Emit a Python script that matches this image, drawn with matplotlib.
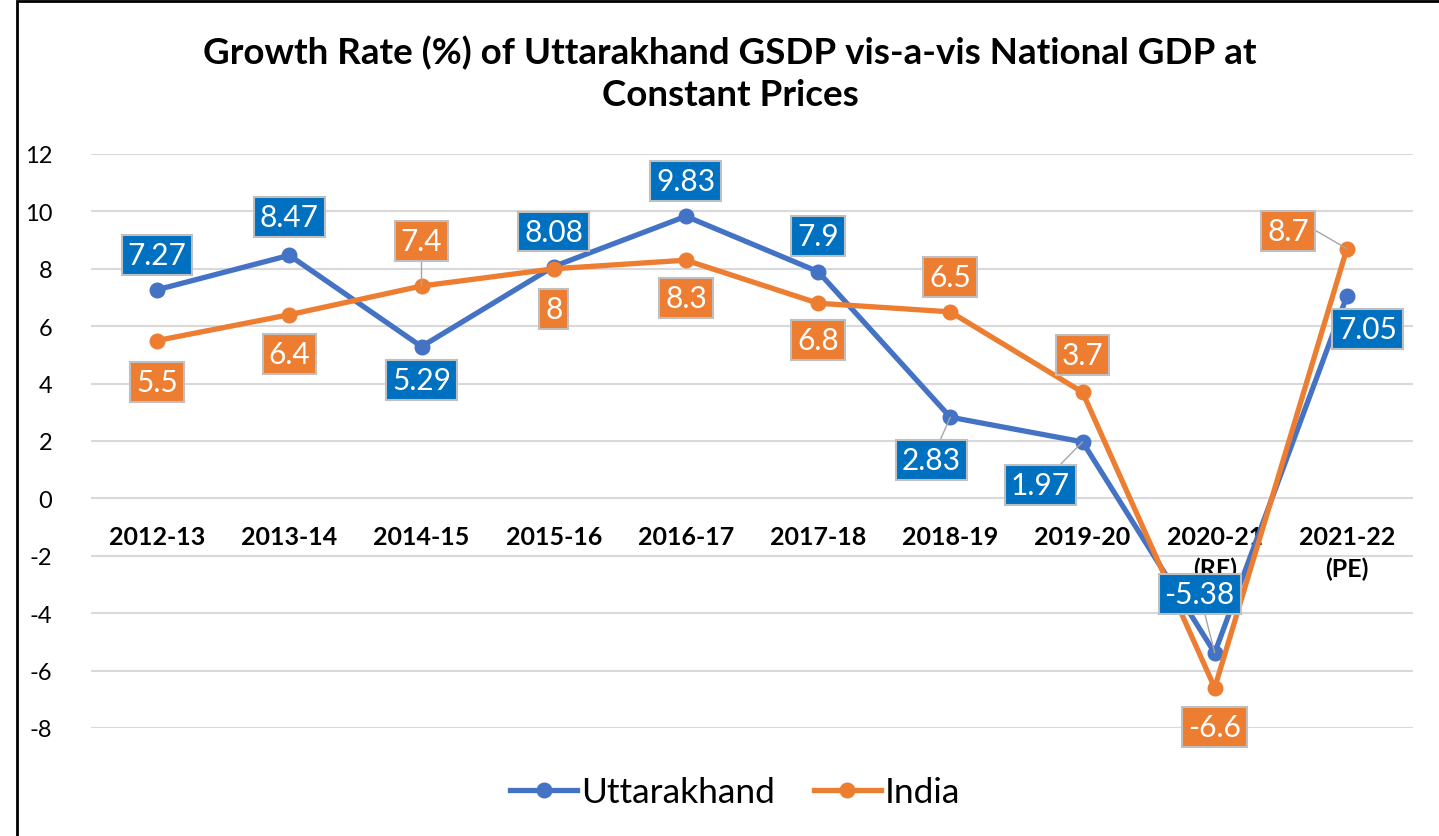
import matplotlib
matplotlib.use("Agg")
import matplotlib.pyplot as plt
from matplotlib.patches import Rectangle
import numpy as np

plt.rcParams['font.family'] = ['Lato', 'DejaVu Sans']
plt.rcParams['axes.unicode_minus'] = False

years = ['2012-13', '2013-14', '2014-15', '2015-16', '2016-17', '2017-18',
         '2018-19', '2019-20', '2020-21\n(RE)', '2021-22\n(PE)']
uttarakhand = [7.27, 8.47, 5.29, 8.08, 9.83, 7.9, 2.83, 1.97, -5.38, 7.05]
india = [5.5, 6.4, 7.4, 8, 8.3, 6.8, 6.5, 3.7, -6.6, 8.7]

# label offsets in pixels (dx, dy) and whether a leader line is drawn
u_off = [(0, 35), (0, 38), (0, -33), (0, 35), (0, 35), (0, 36),
         (-19, -43), (-42, -43), (-15, 59), (21, -33)]
u_lead = [False, False, False, False, False, False, True, True, True, False]
i_off = [(0, -41), (0, -39), (0, 45), (0, -40), (0, -38), (0, -37),
         (0, 35), (0, 37), (0, -39), (-59, 18)]
i_lead = [False, False, True, False, False, False, False, False, False, True]

blue_line = '#4472C4'
orange_line = '#ED7D31'
blue_box = '#0070C0'
orange_box = '#ED7D31'

fig = plt.figure(figsize=(14.39, 8.37), dpi=100)
ax = fig.add_axes([91/1439, 1 - 729/837, (1413-91)/1439, (729-155)/837])

x = np.arange(len(years))
ax.plot(x, uttarakhand, color=blue_line, lw=3.8, marker='o', ms=10.5,
        label='Uttarakhand', zorder=3)
ax.plot(x, india, color=orange_line, lw=3.8, marker='o', ms=10.5,
        label='India', zorder=3)

def add_labels(vals, offs, leads, boxcol):
    for xi, v, (dx, dy), lead in zip(x, vals, offs, leads):
        kw = {}
        if lead:
            cs = 'arc3'
            if dx < -50:
                cs = 'arc,angleA=0,armA=28,angleB=0,armB=0,rad=0'
            kw['arrowprops'] = dict(arrowstyle='-', color='#A6A6A6', lw=1,
                                    shrinkA=0, shrinkB=0, connectionstyle=cs)
        ax.annotate(f'{v:g}', xy=(xi, v), xytext=(dx, dy),
                    textcoords='offset pixels', ha='center', va='center',
                    fontsize=21.5, color='white', zorder=5,
                    bbox=dict(boxstyle='square,pad=0.2', fc=boxcol,
                              ec='#BFBFBF', lw=1.5), **kw)

add_labels(uttarakhand, u_off, u_lead, blue_box)
add_labels(india, i_off, i_lead, orange_box)

ax.set_xlim(-0.5, len(years) - 0.5)
ax.set_ylim(-8, 12)
for s in ax.spines.values():
    s.set_visible(False)
ax.spines['bottom'].set_position(('data', 0))
ax.set_yticks(np.arange(-8, 13, 2))
ax.set_xticks(x)
ax.set_xticklabels(years)
for t in ax.get_xticklabels():
    t.set_fontsize(18)
    t.set_fontweight('bold')
    t.set_linespacing(1.45)
ax.tick_params(axis='x', length=0, pad=19)
ax.tick_params(axis='y', length=0, pad=28, labelsize=17)
ax.grid(axis='y', color='#D9D9D9', lw=1.5, zorder=0)
ax.set_axisbelow(True)

fig.text(730/1439, 1 - 74/837,
         'Growth Rate (%) of Uttarakhand GSDP vis-a-vis National GDP at\nConstant Prices',
         ha='center', va='center', fontsize=26.5, fontweight='bold',
         linespacing=1.3)

leg = fig.legend(loc='center', bbox_to_anchor=(735/1439, 1 - 793/837),
                 ncol=2, frameon=False, fontsize=25.5, handlelength=1.9,
                 handletextpad=0.1, columnspacing=1.1)

fig.patches.append(Rectangle((17/1439, -0.05), 1.0, 1.05 - 2/837, fill=False,
                             ec='black', lw=2, transform=fig.transFigure))

fig.savefig('out.png', dpi=100)
